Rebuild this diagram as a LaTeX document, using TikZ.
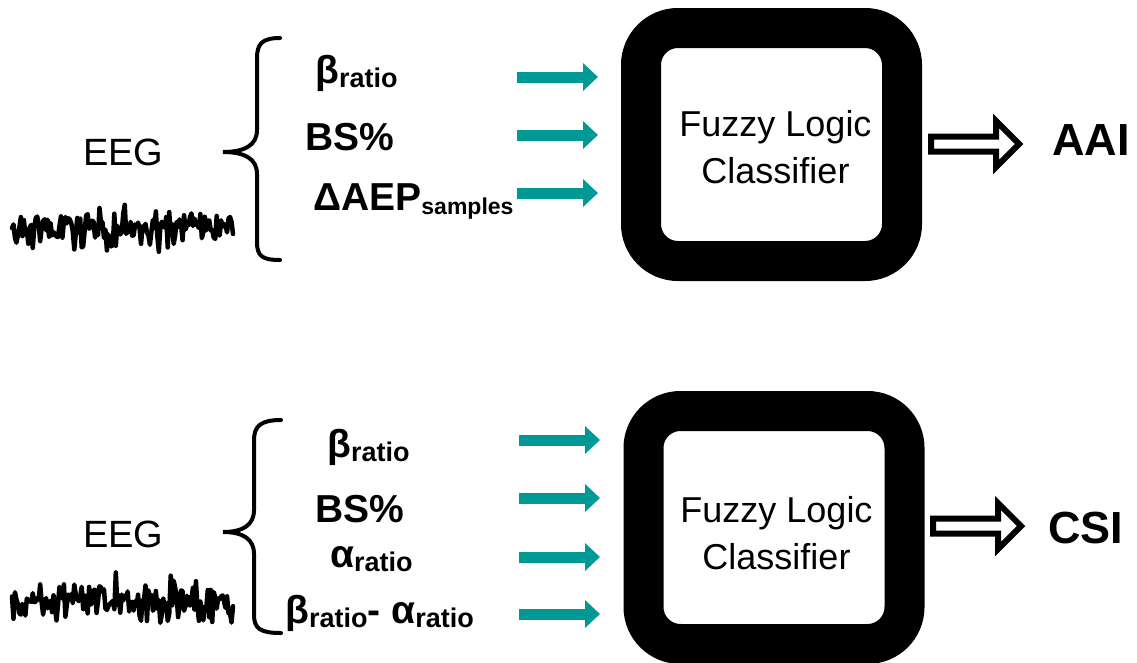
\documentclass[tikz,border=0pt]{standalone}
\usepackage{fontspec}
\setmainfont{Liberation Sans}
\usetikzlibrary{arrows.meta}
\definecolor{tealc}{RGB}{0,153,150}
\newcommand{\subtx}[1]{\raisebox{-4pt}{\fontsize{27}{30}\selectfont #1}}
\newcommand{\subsm}[1]{\raisebox{-4pt}{\fontsize{23}{28}\selectfont #1}}
\begin{document}
\begin{tikzpicture}[x=1pt,y=-1pt,
  lbl/.style={anchor=base west,inner sep=0,font=\fontsize{39}{46}\selectfont\bfseries},
  eeg/.style={anchor=base west,inner sep=0,font=\fontsize{38}{44}\selectfont},
  fuzz/.style={anchor=base,inner sep=0,font=\fontsize{36}{42}\selectfont},
  outlbl/.style={anchor=base west,inner sep=0,font=\fontsize{45}{50}\selectfont\bfseries},
  clsbox/.style={draw=black,fill=white,line width=40pt,rounded corners=37pt,minimum width=261pt,minimum height=233pt,inner sep=0},
  tealarrow/.style={draw=tealc,line width=11pt,-{Triangle[length=15pt,width=27pt]}},
  brace/.style={draw=black,line width=4pt,line cap=round},
  wave/.style={draw=black,line width=4.5pt,line join=round,line cap=round},
  hollow/.style={draw=black,fill=white,line width=6pt,miter limit=10}]
\useasboundingbox (0,0) rectangle (1137,662);

% ---------- top row ----------
\node[clsbox] (box1) at (771.5,144.5) {};
\node[fuzz] (f1a) at (775.5,136.5) {Fuzzy Logic};
\node[fuzz] (f1b) at (775.5,183) {Classifier};

\node[eeg] (eeg1) at (83,165) {EEG};
\pgfmathsetseed{11}
\draw[wave] plot[domain=12:233,samples=150] (\x,{230+9*rand+27*rand*abs(rand)});

\coordinate (br1) at (280,38);
\draw[brace] (br1) .. controls (262,38) and (257,44) .. (257,58) -- (257,130)
  .. controls (257,145) and (245,152) .. (223,152)
  .. controls (245,152) and (257,159) .. (257,174) -- (257,242)
  .. controls (257,256) and (262,260) .. (280,260);

\node[lbl] (t1) at (315,83) {β\subtx{ratio}};
\node[lbl] (t2) at (305,150) {BS\%};
\node[lbl] (t3) at (313,210) {ΔAEP\subsm{samples}};

\foreach \i/\yy in {1/77,2/135,3/193}{
  \coordinate (ta\i) at (517,\yy);
  \coordinate (tb\i) at (598,\yy);
  \draw[tealarrow] (ta\i) -- (tb\i);
}

\coordinate (o1) at (931,144);
\draw[hollow] (o1) ++(0,-7.5) -- ++(65,0) -- ++(0,-15.5) -- ++(23,23) -- ++(-23,23) -- ++(0,-15.5) -- ++(-65,0) -- cycle;
\node[outlbl] (aai) at (1052,155) {AAI};

% ---------- bottom row ----------
\node[clsbox] (box2) at (774,527.5) {};
\node[fuzz] (f2a) at (776.5,522) {Fuzzy Logic};
\node[fuzz] (f2b) at (776.5,569) {Classifier};

\node[eeg] (eeg2) at (83,547) {EEG};
\pgfmathsetseed{23}
\draw[wave] plot[domain=12:233,samples=150] (\x,{601+8*rand+25*rand*abs(rand)});

\coordinate (br2) at (281,420);
\draw[brace] (br2) .. controls (261,420) and (254,426) .. (254,440) -- (254,510)
  .. controls (254,525) and (243,532) .. (223,532)
  .. controls (243,532) and (254,539) .. (254,554) -- (254,615)
  .. controls (254,629) and (261,633) .. (281,633);

\node[lbl] (b1) at (327,457) {β\subtx{ratio}};
\node[lbl] (b2) at (315,522) {BS\%};
\node[lbl] (b3) at (330,567) {α\subtx{ratio}};
\node[lbl] (b4) at (285,623) {β\subtx{ratio}- α\subtx{ratio}};

\foreach \i/\yy in {1/440,2/498,3/557,4/614}{
  \coordinate (ba\i) at (519,\yy);
  \coordinate (bb\i) at (600,\yy);
  \draw[tealarrow] (ba\i) -- (bb\i);
}

\coordinate (o2) at (933,526);
\draw[hollow] (o2) ++(0,-7.5) -- ++(65,0) -- ++(0,-15.5) -- ++(23,23) -- ++(-23,23) -- ++(0,-15.5) -- ++(-65,0) -- cycle;
\node[outlbl] (csi) at (1048,543) {CSI};
\end{tikzpicture}
\end{document}
